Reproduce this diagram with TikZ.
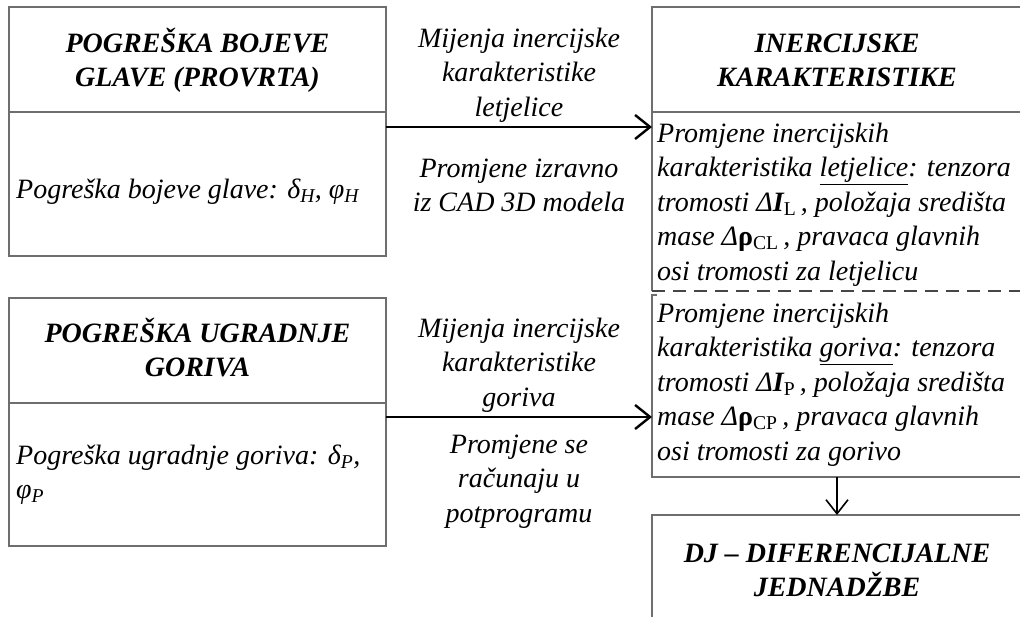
\documentclass[tikz,border=0pt]{standalone}
\usepackage{fontspec}
\setmainfont{Liberation Serif}
\usetikzlibrary{arrows.meta,calc}
\definecolor{bordergray}{RGB}{110,110,110}
\definecolor{dashgray}{RGB}{70,70,70}
\newcommand{\fsz}{\fontsize{28}{34.5}\selectfont}
\begin{document}
\begin{tikzpicture}[x=1pt,y=-1pt,
  boxst/.style={rectangle, draw=bordergray, line width=1.3pt, anchor=north west, inner sep=0pt, outer sep=0pt},
  areast/.style={rectangle, anchor=north west, inner sep=0pt, outer sep=0pt},
  ttl/.style={font=\fsz\bfseries\itshape, anchor=base, inner sep=0pt},
  txt/.style={font=\fsz\itshape, anchor=base west, inner sep=0pt},
  mid/.style={font=\fsz\itshape, anchor=base, inner sep=0pt},
  harr/.style={line width=2.4pt, -{Straight Barb[length=15pt,width=24pt,line width=2.4pt]}},
  varr/.style={line width=1.6pt, -{Straight Barb[length=14pt,width=22pt,line width=1.6pt]}},
  sideline/.style={draw=bordergray, line width=1.3pt},
  dashline/.style={draw=dashgray, line width=1.4pt, dash pattern=on 13pt off 8pt}
]
\useasboundingbox (0,0) rectangle (1020,616);
\begin{scope}
\clip (0,0) rectangle (1020,616);

% left upper block
\node[boxst, minimum width=377pt, minimum height=105pt] (headA) at (9,7) {};
\node[boxst, minimum width=377pt, minimum height=144pt] (bodyA) at (9,112) {};
% left lower block
\node[boxst, minimum width=377pt, minimum height=105pt] (headB) at (9,298) {};
\node[boxst, minimum width=377pt, minimum height=143pt] (bodyB) at (9,403) {};
% right blocks
\node[boxst, minimum width=370pt, minimum height=105pt] (headR) at (652,7) {};
\node[areast, minimum width=370pt, minimum height=179pt] (bodyR1) at (652,112) {};
\node[areast, minimum width=370pt, minimum height=182pt] (bodyR2) at (652,295) {};
\node[boxst, minimum width=370pt, minimum height=130pt] (DJ) at (652,515) {};

\draw[sideline] (bodyR1.north west) -- (bodyR1.south west);
\draw[sideline] (bodyR1.north east) -- (bodyR1.south east);
\draw[dashline] (bodyR1.south west) -- (bodyR1.south east);
\draw[sideline] ($(bodyR2.north west)+(5,0)$) -- (bodyR2.north west) -- (bodyR2.south west) -- (bodyR2.south east) -- (bodyR2.north east);

% texts
\node[ttl] (tHeadA) at (197.5,52) {\parbox[t]{377pt}{\centering POGREŠKA BOJEVE\\GLAVE (PROVRTA)}};
\node[txt] (tBodyA) at (16,198) {\parbox[t]{380pt}{\raggedright Pogreška bojeve glave: δ\textsubscript{H}, φ\textsubscript{H}}};
\node[ttl] (tHeadB) at (197.5,342) {\parbox[t]{377pt}{\centering POGREŠKA UGRADNJE\\GORIVA}};
\node[txt] (tBodyB) at (16,464) {\parbox[t]{380pt}{\raggedright Pogreška ugradnje goriva: δ\textsubscript{P},\\φ\textsubscript{P}}};
\node[ttl] (tHeadR) at (837,52) {\parbox[t]{370pt}{\centering INERCIJSKE\\KARAKTERISTIKE}};
\node[txt] (tBodyR1) at (657,142) {\parbox[t]{400pt}{\raggedright Promjene inercijskih\\karakteristika \underline{letjelice}: tenzora\\tromosti Δ\textbf{I}\textsubscript{\upshape L}\,, položaja središta\\mase Δ{\upshape\bfseries ρ}\textsubscript{\upshape CL}\,, pravaca glavnih\\osi tromosti za letjelicu}};
\node[txt] (tBodyR2) at (657,322) {\parbox[t]{400pt}{\raggedright Promjene inercijskih\\karakteristika \underline{goriva}: tenzora\\tromosti Δ\textbf{I}\textsubscript{\upshape P}\,, položaja središta\\mase Δ{\upshape\bfseries ρ}\textsubscript{\upshape CP}\,, pravaca glavnih\\osi tromosti za gorivo}};
\node[ttl] (tDJ) at (837,562) {\parbox[t]{370pt}{\centering DJ – DIFERENCIJALNE\\JEDNADŽBE}};

\node[mid] (tMid1) at (519,47) {\parbox[t]{266pt}{\centering Mijenja inercijske\\karakteristike\\letjelice}};
\node[mid] (tMid2) at (519,177) {\parbox[t]{266pt}{\centering Promjene izravno\\iz CAD 3D modela}};
\node[mid] (tMid3) at (519,337) {\parbox[t]{266pt}{\centering Mijenja inercijske\\karakteristike\\goriva}};
\node[mid] (tMid4) at (519,453) {\parbox[t]{266pt}{\centering Promjene se\\računaju u\\potprogramu}};

% connectors
\coordinate (yA) at (0,127);
\coordinate (yB) at (0,417);
\draw[harr] (bodyA.east |- yA) -- (bodyR1.west |- yA);
\draw[harr] (bodyB.east |- yB) -- (bodyR2.west |- yB);
\draw[varr] (bodyR2.south) -- (DJ.north);
\end{scope}
\end{tikzpicture}
\end{document}
